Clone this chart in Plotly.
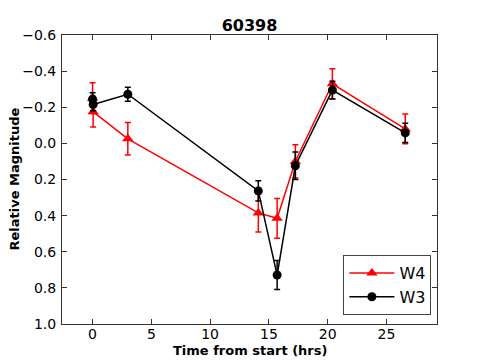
import plotly.graph_objects as go

# W4 band (red triangles)
t_w4 = [0.0, 0.05, 3.0, 14.1, 15.7, 17.25, 20.4, 26.6]
mag_w4 = [-0.25, -0.175, -0.025, 0.385, 0.415, 0.10, -0.33, -0.08]
err_w4 = [0.085, 0.085, 0.09, 0.105, 0.11, 0.092, 0.083, 0.082]

# W3 band (black circles)
t_w3 = [0.0, 0.05, 3.0, 14.1, 15.7, 17.25, 20.4, 26.6]
mag_w3 = [-0.245, -0.215, -0.272, 0.263, 0.729, 0.124, -0.295, -0.058]
err_w3 = [0.035, 0.035, 0.039, 0.056, 0.08, 0.076, 0.049, 0.053]

y_ticks = [-0.6, -0.4, -0.2, 0.0, 0.2, 0.4, 0.6, 0.8, 1.0]
x_ticks = [0, 5, 10, 15, 20, 25]

fig = go.Figure()
fig.add_trace(go.Scatter(
    x=t_w4, y=mag_w4, name='W4', mode='lines+markers',
    line=dict(color='red', width=1.5),
    marker=dict(symbol='triangle-up', size=10, color='red'),
    error_y=dict(type='data', array=err_w4, color='red', thickness=1.5, width=3),
))
fig.add_trace(go.Scatter(
    x=t_w3, y=mag_w3, name='W3', mode='lines+markers',
    line=dict(color='black', width=1.5),
    marker=dict(symbol='circle', size=9, color='black'),
    error_y=dict(type='data', array=err_w3, color='black', thickness=1.5, width=3),
))

# the page body has an 8px margin, so the figure is 8px smaller than the window
W, H = 477, 352
font = 'DejaVu Sans, sans-serif'
fig.update_layout(
    width=W, height=H,
    margin=dict(l=54, r=48, t=27, b=36),
    paper_bgcolor='white', plot_bgcolor='white',
    font=dict(family=font, size=14, color='black'),
    title=dict(text='<b>60398</b>', x=0.5, xref='paper', y=1 - 17.5 / H,
               yref='container', yanchor='middle', font=dict(size=16)),
    legend=dict(x=0.985, y=0.031, xanchor='right', yanchor='bottom',
                bordercolor='#444', borderwidth=1, bgcolor='white',
                font=dict(size=16), itemwidth=45, tracegroupgap=0),
    showlegend=True,
)
fig.update_xaxes(
    range=[-2.6, 29.3], tickvals=x_ticks, showgrid=False, zeroline=False,
    showline=True, linecolor='#333', linewidth=1, mirror='ticks',
    ticks='inside', ticklen=5, tickcolor='#333', ticklabelstandoff=-3,
)
fig.update_yaxes(
    range=[1.0, -0.6], tickvals=y_ticks, tickformat='.1f', showgrid=False,
    zeroline=False, showline=True, linecolor='#333', linewidth=1,
    mirror='ticks', ticks='inside', ticklen=5, tickcolor='#333',
    ticklabelstandoff=2,
)
fig.add_annotation(text='<b>Time from start (hrs)</b>', xref='paper', yref='paper',
                   x=0.5, y=0, yshift=-26, yanchor='middle', showarrow=False,
                   font=dict(size=13))
fig.add_annotation(text='<b>Relative Magnitude</b>', xref='paper', yref='paper',
                   x=0, y=0.5, xshift=-48, xanchor='center', textangle=-90,
                   showarrow=False, font=dict(size=13))

fig.write_html("out.html")
